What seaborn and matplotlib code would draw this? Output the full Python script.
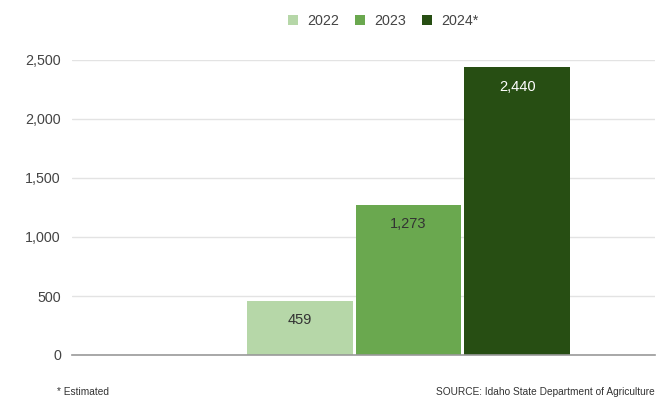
import matplotlib
matplotlib.use("Agg")
import matplotlib.pyplot as plt
import seaborn as sns
import pandas as pd
from matplotlib.patches import Patch

years = ["2022", "2023", "2024*"]
values = [459, 1273, 2440]
labels = ["459", "1,273", "2,440"]
colors = ["#b6d7a8", "#6aa84f", "#274e13"]
label_colors = ["#333333", "#333333", "#ffffff"]
yticks = [0, 500, 1000, 1500, 2000, 2500]
ytick_labels = ["0", "500", "1,000", "1,500", "2,000", "2,500"]

sns.set_theme(style="white")
plt.rcParams['font.family'] = ['Liberation Sans', 'DejaVu Sans']

df = pd.DataFrame({"year": years, "value": values})

fig = plt.figure(figsize=(6.61, 4.0), dpi=100)
ax = fig.add_axes([72/661, 1-355/400, (655-72)/661, (355-60)/400])

sns.barplot(data=df, x="year", y="value", hue="year", palette=colors,
            width=0.975, legend=False, ax=ax, saturation=1, edgecolor="none")

ax.set_xlim(-2.10, 3.27)
ax.set_ylim(0, 2500)
ax.set_yticks(yticks)
ax.set_yticklabels(ytick_labels, fontsize=10.3, color="#444444")
ax.set_xticks([])
ax.set_xlabel("")
ax.set_ylabel("")
ax.yaxis.grid(True, color="#e3e3e3", linewidth=1)
ax.set_axisbelow(True)
for s in ["top", "right", "left"]:
    ax.spines[s].set_visible(False)
ax.spines["bottom"].set_color("#999999")
ax.spines["bottom"].set_linewidth(1.2)
ax.tick_params(axis="y", length=0, pad=8)

for i, (v, lab, c) in enumerate(zip(values, labels, label_colors)):
    ax.annotate(lab, xy=(i, v), xytext=(0, -14), textcoords="offset points",
                ha="center", va="center", fontsize=10.5, color=c)

handles = [Patch(facecolor=c, edgecolor="none") for c in colors]
fig.legend(handles, years, loc="center", bbox_to_anchor=(383/661, 1-21/400),
           ncol=3, frameon=False, fontsize=10.3, handlelength=0.75, handleheight=0.75,
           handletextpad=0.6, columnspacing=1.1, labelcolor="#444444")

fig.text(57/661, 1-392/400, "* Estimated", fontsize=7.3, color="#333333",
         ha="left", va="center")
fig.text(655/661, 1-392/400, "SOURCE: Idaho State Department of Agriculture",
         fontsize=7.3, color="#333333", ha="right", va="center")

fig.savefig("out.png", dpi=100, facecolor="white")
